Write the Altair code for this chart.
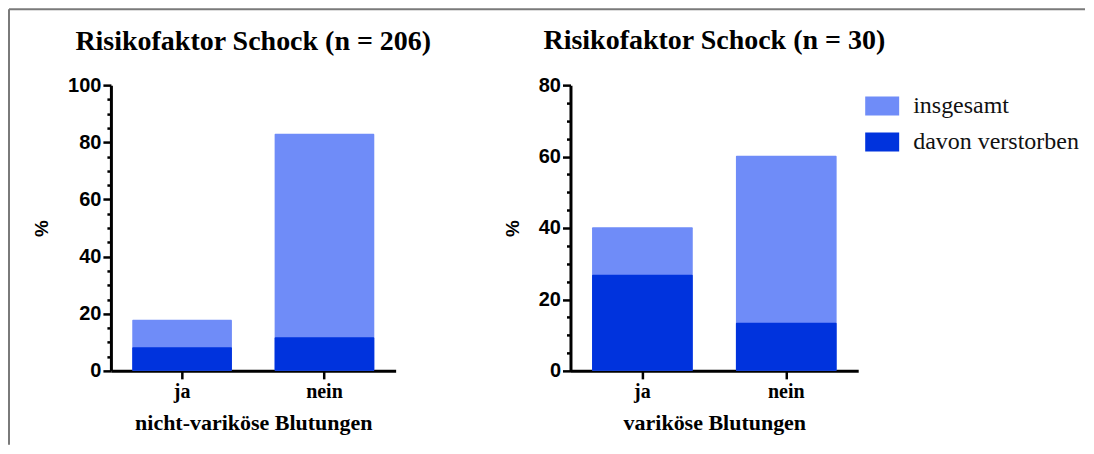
import altair as alt
import pandas as pd

categories = ["ja", "nein"]
series = ["insgesamt", "davon verstorben"]
left_total = [17.9, 83.0]
left_dead = [8.3, 11.8]
right_total = [40.2, 60.2]
right_dead = [26.9, 13.5]
colors = ["#6f8cf8", "#0033dd"]


def frame(total, dead):
    rows = []
    for c, t in zip(categories, total):
        rows.append({"cat": c, "series": series[0], "value": t, "ord": 0})
    for c, d in zip(categories, dead):
        rows.append({"cat": c, "series": series[1], "value": d, "ord": 1})
    return pd.DataFrame(rows)


def bars(df, xtitle, ymax, legend):
    if legend:
        leg = alt.Legend(
            title=None, orient="none", legendX=295, legendY=4,
            symbolType="M-1,-0.56H1V0.56H-1Z", symbolSize=1156,
            symbolStrokeWidth=0, symbolOpacity=1,
            labelFont="Liberation Serif", labelFontSize=24, labelColor="#111",
            labelOffset=14, rowPadding=7, labelLimit=400,
        )
    else:
        leg = None
    return alt.Chart(df).mark_bar(cornerRadius=1, opacity=1).encode(
        x=alt.X("cat:N", sort=categories, title=xtitle,
                scale=alt.Scale(paddingInner=0.3, paddingOuter=0.15),
                axis=alt.Axis(labelAngle=0, labelFont="Liberation Serif", labelFontWeight="bold",
                              labelFontSize=20, labelPadding=3, tickSize=8,
                              titleFont="Liberation Serif", titleFontWeight="bold",
                              titleFontSize=22, titlePadding=11)),
        y=alt.Y("value:Q", stack=None, title="%",
                scale=alt.Scale(domain=[0, ymax], nice=False),
                axis=alt.Axis(values=list(range(0, ymax + 1, 5)),
                              labelExpr="datum.value % 20 === 0 ? datum.label : ''",
                              labelOverlap=False,
                              tickSize={"condition": {"test": "datum.value % 20 === 0", "value": 8}, "value": 4},
                              labelFont="Liberation Sans", labelFontWeight="bold", labelFontSize=20,
                              labelPadding=2,
                              titleFont="Liberation Sans", titleFontWeight="bold", titleFontSize=19,
                              titlePadding=16)),
        color=alt.Color("series:N", scale=alt.Scale(domain=series, range=colors), legend=leg),
        order=alt.Order("ord:Q"),
    )


frame_df = pd.DataFrame({"k": [0]})
border_left = alt.Chart(frame_df).mark_rule(color="#7a7a7a", strokeWidth=2).encode(
    x=alt.value(-102), y=alt.value(-76), y2=alt.value(360)
)
border_top = alt.Chart(frame_df).mark_rule(color="#7a7a7a", strokeWidth=2).encode(
    x=alt.value(-102), x2=alt.value(975), y=alt.value(-76)
)

left = alt.layer(
    bars(frame(left_total, left_dead), "nicht-variköse Blutungen", 100, False),
    border_left, border_top,
).properties(
    width=285, height=286,
    title=alt.Title("Risikofaktor Schock (n = 206)", frame="group", offset=-48),
)
right = bars(frame(right_total, right_dead), "variköse Blutungen", 80, True).properties(
    width=288, height=286,
    title=alt.Title("Risikofaktor Schock (n = 30)", frame="group", offset=20),
)

chart = alt.hconcat(left, right, spacing=175, bounds="flush").resolve_scale(color="independent").configure(
    padding=0,
).configure_view(stroke=None).configure_axis(
    domainColor="black", domainWidth=3, tickColor="black", tickWidth=2.5,
    labelColor="black", titleColor="black", grid=False,
).configure_title(
    font="Liberation Serif", fontWeight="bold", fontSize=28, color="black",
    anchor="middle",
)

chart.save("out.html", embed_options={"renderer": "svg", "actions": False})
